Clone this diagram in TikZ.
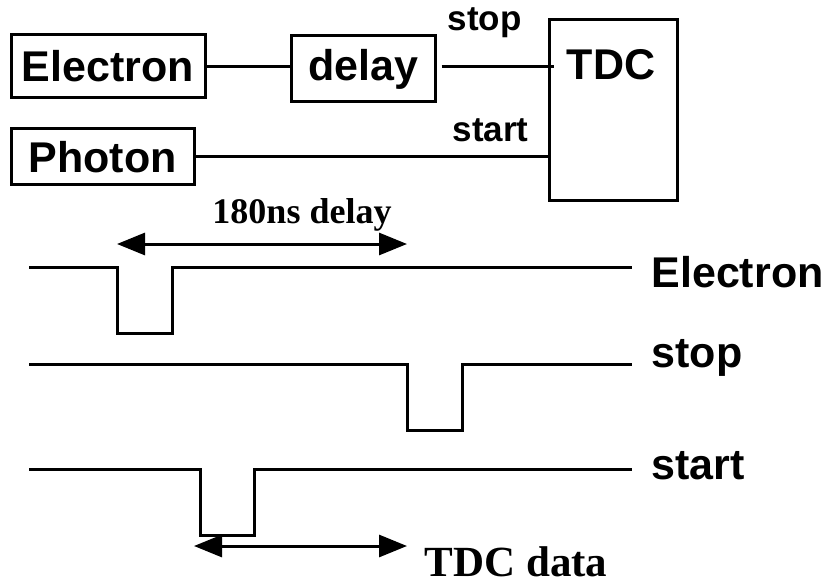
\documentclass[tikz,border=0pt]{standalone}
\usepackage{fontspec}
\setmainfont{Liberation Serif}
\setsansfont{Liberation Sans}
\usetikzlibrary{arrows.meta}

\tikzset{
  blk/.style={draw, line width=3pt, inner sep=0pt,
    font={\sffamily\bfseries\fontsize{43}{50}\selectfont}},
  tag/.style={inner sep=0pt, anchor=base,
    font={\sffamily\bfseries\fontsize{35}{40}\selectfont}},
  sigtag/.style={inner sep=0pt, anchor=base west,
    font={\sffamily\bfseries\fontsize{43}{50}\selectfont}},
  note/.style={inner sep=0pt, anchor=base,
    font={\rmfamily\bfseries\fontsize{#1}{#1}\selectfont}},
  span/.style={line width=3pt,
    {Triangle[length=28pt,width=22pt]}-{Triangle[length=28pt,width=22pt]}}
}

\begin{document}
\begin{tikzpicture}[x=1pt, y=-1pt, line width=3pt]
  \useasboundingbox (0,0) rectangle (826,585);
  % 블록 — 위쪽 회로
  \node[blk, minimum width=194pt, minimum height=63pt] (elec) at (108,66.5) {Electron};
  \node[blk, minimum width=144pt, minimum height=66pt] (dly) at (363,69) {delay};
  \node[blk, minimum width=183pt, minimum height=56pt] (pho) at (102.5,157) {Photon};
  \node[blk, minimum width=128pt, minimum height=181pt] (tdc) at (613,110.5) {};
  \node[blk, draw=none, anchor=base] (tdctxt) at (611,80) {TDC};
  \draw (elec.east) -- (elec.east -| dly.west);
  \draw ([xshift=5pt]dly.east |- elec.east) -- ([xshift=6pt]elec.east -| tdc.west);
  \draw (pho.east) -- (pho.east -| tdc.west);
  \node[tag] (stoptag) at (484.5,31) {stop};
  \node[tag] (starttag) at (490.5,142) {start};
  % 펄스 — 아래 타이밍, 세 줄 모두 깊이 66
  \foreach \y/\a/\b/\n/\off/\txt in {267/117/172/e/20/Electron,
      364/407/462/s/3/stop, 469/200/254/t/10/start} {
    \coordinate (\n0) at (29,\y);
    \coordinate (\n1) at (\a,\y);
    \coordinate (\n2) at (\b,\y);
    \coordinate (\n3) at (632,\y);
    \draw (\n0) -- (\n1) -- ++(0,66) -| (\n2) -- (\n3);
    \node[sigtag] (\n lbl) at ([xshift=18pt, yshift=-\off pt]\n3) {\txt};
  }
  % 화살표
  \coordinate (d0) at ([yshift=23pt]e1);
  \coordinate (d1) at (d0 -| s1);
  \draw[span] (d0) -- (d1);
  \node[note=36] (dlytxt) at (302,223) {180ns delay};
  \coordinate (q0) at (194,546);
  \coordinate (q1) at (q0 -| s1);
  \draw[span] (q0) -- (q1);
  \node[note=43] (datatxt) at (516,576) {TDC data};
\end{tikzpicture}
\end{document}
